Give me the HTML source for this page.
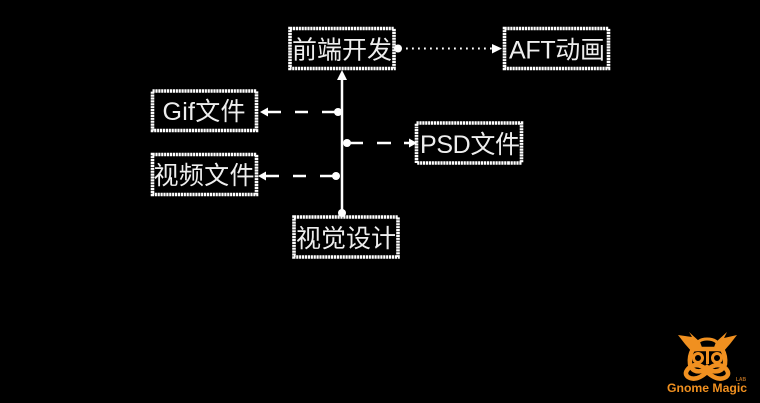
<!DOCTYPE html>
<html><head><meta charset="utf-8">
<style>
html,body{margin:0;padding:0;background:#000;width:760px;height:403px;overflow:hidden}
svg{display:block}
text{font-family:"Liberation Sans","Noto Sans CJK SC",sans-serif;fill:#eeeeee}
.b{fill:none;stroke:#fff;stroke-width:3.6;stroke-dasharray:2.2 .7}
.l{stroke:#fff;stroke-width:2.5;fill:none}
.o{fill:#f09020}
.os{fill:none;stroke:#f09020}
</style></head>
<body>
<svg width="760" height="403" viewBox="0 0 760 403" xmlns="http://www.w3.org/2000/svg">
<rect width="760" height="403" fill="#000"/>
<!-- boxes -->
<rect class="b" x="290" y="28.500" width="104" height="40"/>
<rect class="b" x="152.500" y="91" width="104" height="39.500"/>
<rect class="b" x="152.500" y="154.500" width="104" height="40"/>
<rect class="b" x="294" y="217" width="104" height="40"/>
<rect class="b" x="504.500" y="28.500" width="104" height="40"/>
<rect class="b" x="416.500" y="123" width="105" height="40"/>
<!-- labels -->
<text x="342" y="58.500" font-size="25" text-anchor="middle" textLength="100">前端开发</text>
<text x="204" y="120" font-size="25" text-anchor="middle" textLength="83">Gif文件</text>
<text x="204" y="184" font-size="25" text-anchor="middle" textLength="101">视频文件</text>
<text x="346" y="247" font-size="25" text-anchor="middle" textLength="100">视觉设计</text>
<text x="557" y="58.500" font-size="25" text-anchor="middle" textLength="96">AFT动画</text>
<text x="470" y="153" font-size="25" text-anchor="middle" textLength="100">PSD文件</text>
<!-- vertical -->
<line class="l" x1="342" y1="213" x2="342" y2="78"/>
<polygon points="342,70 337,80 347,80" fill="#fff"/>
<circle cx="342" cy="213" r="4" fill="#fff"/>
<!-- Gif arrow -->
<circle cx="338" cy="112" r="4" fill="#fff"/>
<line class="l" x1="338" y1="112" x2="322" y2="112"/>
<line class="l" x1="308" y1="112" x2="295" y2="112"/>
<line class="l" x1="281" y1="112" x2="266" y2="112"/>
<polygon points="260,112 268,107.500 268,116.500" fill="#fff"/>
<!-- video arrow -->
<circle cx="336" cy="176" r="4" fill="#fff"/>
<line class="l" x1="336" y1="176" x2="320" y2="176"/>
<line class="l" x1="306" y1="176" x2="293" y2="176"/>
<line class="l" x1="279" y1="176" x2="264" y2="176"/>
<polygon points="258,176 266,171.500 266,180.500" fill="#fff"/>
<!-- PSD arrow -->
<circle cx="347" cy="143" r="4" fill="#fff"/>
<line class="l" x1="347" y1="143" x2="363" y2="143"/>
<line class="l" x1="377" y1="143" x2="391" y2="143"/>
<line class="l" x1="404" y1="143" x2="412" y2="143"/>
<polygon points="417,143 409,138.500 409,147.500" fill="#fff"/>
<!-- dotted -->
<circle cx="398" cy="48.500" r="4" fill="#fff"/>
<line x1="406" y1="48.500" x2="492" y2="48.500" stroke="#fff" stroke-width="2" stroke-dasharray="1.800 4.200"/>
<polygon points="502,48.500 492,44 492,53.500" fill="#fff"/>
<!-- logo -->
<g>
<path class="o" d="M678 335 L692 337 L689 332 L700 342 L703 350 L692 352 L685 344Z"/>
<path class="o" d="M737 335 L724 338 L727 332 L716 342 L713 350 L723 352 L730 344Z"/>
<path class="os" stroke-width="3" d="M695 348 Q697 339 707 339 Q718 339 720 348"/>
<path class="os" stroke-width="4.500" d="M693 349 H722 Q726 356 725 364 Q722 373 712 371 L707 367 L702 371 Q692 373 690 364 Q689 356 693 349Z"/>
<circle class="os" cx="698" cy="358" r="4.500" stroke-width="3"/>
<circle class="os" cx="717" cy="358" r="4.500" stroke-width="3"/>
<rect class="o" x="706" y="351" width="3" height="13"/>
<path class="os" stroke-width="4.500" d="M707 370 Q698 362 690 367 Q683 373 688 377 Q696 382 707 372 Q718 382 726 377 Q731 373 724 367 Q716 362 707 370Z"/>
<text x="707" y="392" font-size="12" font-weight="bold" text-anchor="middle" textLength="80" lengthAdjust="spacingAndGlyphs" style="fill:#f09020">Gnome Magic</text>
<text x="741" y="381" font-size="5" font-weight="bold" text-anchor="middle" style="fill:#b06a20">LAB</text>
</g>
</svg>
</body></html>
